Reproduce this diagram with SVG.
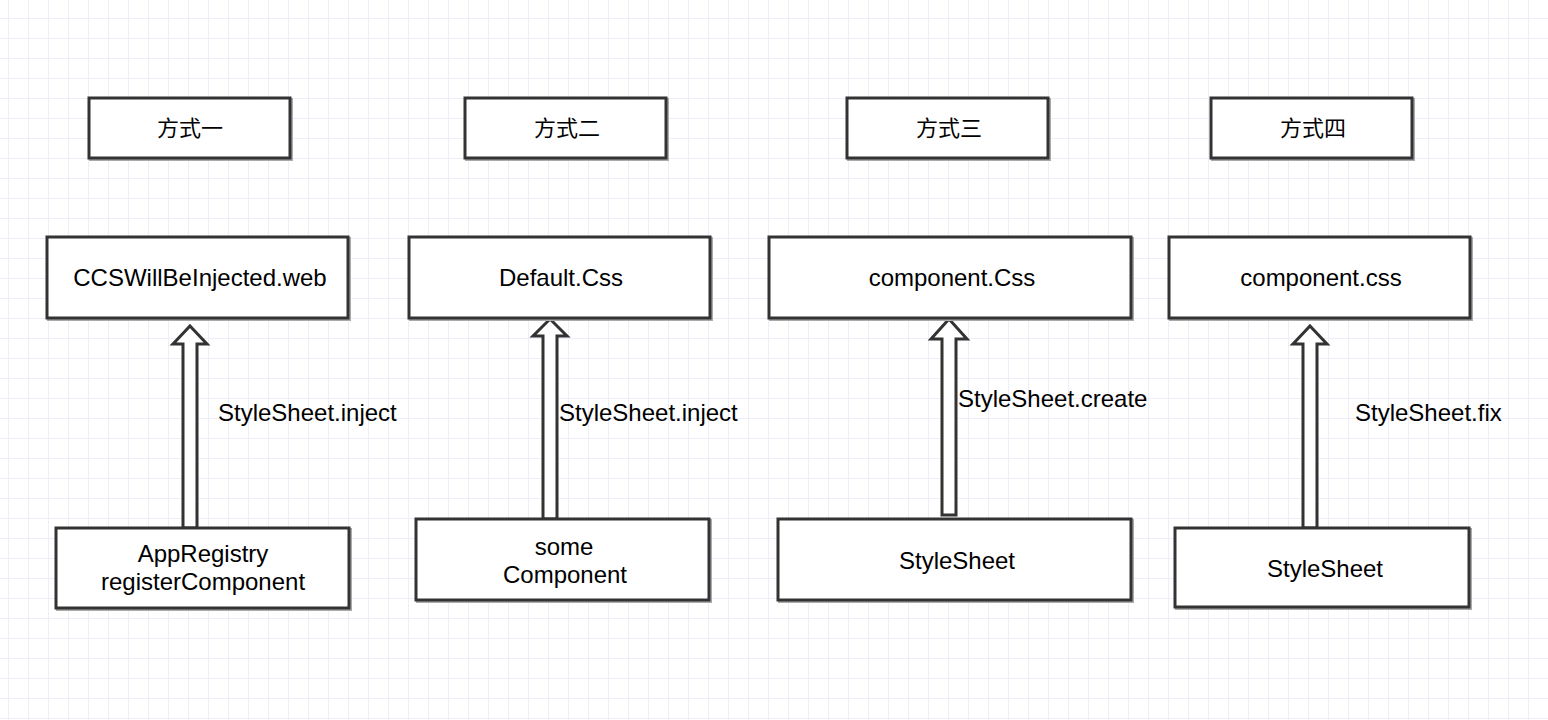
<svg xmlns="http://www.w3.org/2000/svg" width="1548" height="720" viewBox="0 0 1548 720">
<defs>
<pattern id="grid" x="8" y="18" width="20" height="20" patternUnits="userSpaceOnUse">
<path d="M0 0H20M0 0V20" fill="none" stroke="#ededfb" stroke-width="2"/>
</pattern>
<style>
.box{fill:#fff;stroke:#333;stroke-width:3}
.sh{fill:none;stroke:#aaa;stroke-width:3}
.t{font-family:"Liberation Sans","Noto Sans CJK SC",sans-serif;font-size:24px;fill:#000;text-anchor:middle;dominant-baseline:central}
.c{font-size:22px}
.lbl{font-family:"Liberation Sans",sans-serif;font-size:24px;fill:#000;dominant-baseline:central}
.arr{fill:#fff;stroke:#333;stroke-width:3;stroke-linejoin:miter}
</style>
</defs>
<rect width="1548" height="720" fill="#fff"/>
<rect width="1548" height="720" fill="url(#grid)"/>

<g id="connectors">
<polygon class="arr" points="190,326 207,344 197,344 197,528 183,528 183,344 173,344"/>
<polygon class="arr" points="550,319 567,336 557,336 557,519 543,519 543,336 533,336"/>
<polygon class="arr" points="949,319 967,339 956,339 956,515 942,515 942,339 931,339"/>
<polygon class="arr" points="1310,326 1327,344 1317,344 1317,528 1303,528 1303,344 1293,344"/>
<text class="lbl" x="218" y="412">StyleSheet.inject</text>
<text class="lbl" x="559" y="412">StyleSheet.inject</text>
<text class="lbl" x="958" y="398">StyleSheet.create</text>
<text class="lbl" x="1355" y="412">StyleSheet.fix</text>
</g>

<g id="m1"><rect class="sh" x="90.5" y="99.5" width="201" height="60"/><rect class="box" x="89" y="98" width="201" height="60"/><text class="t c" x="190" y="128">方式一</text></g>
<g id="m2"><rect class="sh" x="466.5" y="99.5" width="201" height="60"/><rect class="box" x="465" y="98" width="201" height="60"/><text class="t c" x="567" y="128">方式二</text></g>
<g id="m3"><rect class="sh" x="848.5" y="99.5" width="201" height="60"/><rect class="box" x="847" y="98" width="201" height="60"/><text class="t c" x="949" y="128">方式三</text></g>
<g id="m4"><rect class="sh" x="1212.5" y="99.5" width="201" height="60"/><rect class="box" x="1211" y="98" width="201" height="60"/><text class="t c" x="1313" y="128">方式四</text></g>

<g id="a1"><rect class="sh" x="48.5" y="238.5" width="301" height="81"/><rect class="box" x="47" y="237" width="301" height="81"/><text class="t" x="200" y="277">CCSWillBeInjected.web</text></g>
<g id="a2"><rect class="sh" x="410.5" y="238.5" width="301" height="81"/><rect class="box" x="409" y="237" width="301" height="81"/><text class="t" x="561" y="277">Default.Css</text></g>
<g id="a3"><rect class="sh" x="770.5" y="238.5" width="362" height="81"/><rect class="box" x="769" y="237" width="362" height="81"/><text class="t" x="952" y="277">component.Css</text></g>
<g id="a4"><rect class="sh" x="1170.5" y="238.5" width="301" height="81"/><rect class="box" x="1169" y="237" width="301" height="81"/><text class="t" x="1321" y="277">component.css</text></g>

<g id="b1"><rect class="sh" x="57.5" y="529.5" width="293" height="80"/><rect class="box" x="56" y="528" width="293" height="80"/><text class="t" x="203" y="553">AppRegistry</text><text class="t" x="203" y="581">registerComponent</text></g>
<g id="b2"><rect class="sh" x="417.5" y="520.5" width="293" height="81"/><rect class="box" x="416" y="519" width="293" height="81"/><text class="t" x="564" y="546">some</text><text class="t" x="565" y="574">Component</text></g>
<g id="b3"><rect class="sh" x="779.5" y="520.5" width="353" height="81"/><rect class="box" x="778" y="519" width="353" height="81"/><text class="t" x="957" y="560">StyleSheet</text></g>
<g id="b4"><rect class="sh" x="1176.5" y="529.5" width="294" height="79"/><rect class="box" x="1175" y="528" width="294" height="79"/><text class="t" x="1325" y="568">StyleSheet</text></g>
</svg>
